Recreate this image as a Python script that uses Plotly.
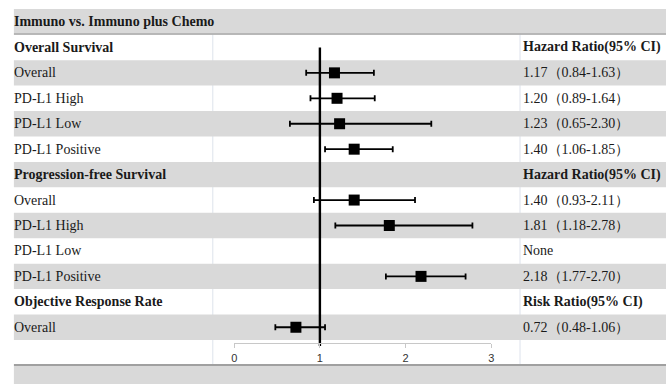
import plotly.graph_objects as go

W, H = 669, 384

title = "Immuno vs. Immuno plus Chemo"
labels = ["Overall Survival", "Overall", "PD-L1 High", "PD-L1 Low", "PD-L1 Positive",
          "Progression-free Survival", "Overall", "PD-L1 High", "PD-L1 Low", "PD-L1 Positive",
          "Objective Response Rate", "Overall"]
is_header = [True, False, False, False, False, True, False, False, False, False, True, False]
right_text = ["Hazard Ratio(95% CI)", "1.17（0.84-1.63）", "1.20（0.89-1.64）", "1.23（0.65-2.30）",
              "1.40（1.06-1.85）", "Hazard Ratio(95% CI)", "1.40（0.93-2.11）", "1.81（1.18-2.78）",
              "None", "2.18（1.77-2.70）", "Risk Ratio(95% CI)", "0.72（0.48-1.06）"]
est = [None, 1.17, 1.20, 1.23, 1.40, None, 1.40, 1.81, None, 2.18, None, 0.72]
lo = [None, 0.84, 0.89, 0.65, 1.06, None, 0.93, 1.18, None, 1.77, None, 0.48]
hi = [None, 1.63, 1.64, 2.30, 1.85, None, 2.11, 2.78, None, 2.70, None, 1.06]
tick_vals = [0, 1, 2, 3]

FONT = "Liberation Serif, Times New Roman, serif"
TXT = "#1a1a1a"
GRAY = "#d9d9d9"

# pixel geometry
row_top = 34.7
row_h = 25.44
def px_to_row(p):
    return (p - row_top) / row_h - 0.5

n = len(labels)
ys = [i for i in range(n) if est[i] is not None]

fig = go.Figure()
fig.add_trace(go.Scatter(
    x=[est[i] for i in ys], y=ys, mode="markers",
    marker=dict(symbol="square", size=11, color="black"),
    error_x=dict(type="data", symmetric=False,
                 array=[hi[i] - est[i] for i in ys],
                 arrayminus=[est[i] - lo[i] for i in ys],
                 color="black", thickness=1.8, width=3),
    showlegend=False, hoverinfo="skip", cliponaxis=False,
))

shapes = []
# vertical separators
for xp in (211.7, 521.7):
    shapes.append(dict(type="line", xref="paper", yref="y", x0=xp / W, x1=xp / W,
                       y0=-0.5, y1=px_to_row(364), line=dict(color="#dde3ec", width=1),
                       layer="below"))
# gray rows
for i in range(n):
    if i % 2 == 1:
        shapes.append(dict(type="rect", xref="paper", yref="y", x0=11 / W, x1=1,
                           y0=i - 0.5, y1=i + 0.5, fillcolor=GRAY, line=dict(width=0),
                           layer="below"))
# title band
shapes.append(dict(type="rect", xref="paper", yref="paper", x0=11 / W, x1=1,
                   y0=1 - 33.3 / H, y1=1 - 9 / H, fillcolor=GRAY, line=dict(width=0), layer="below"))
shapes.append(dict(type="line", xref="paper", yref="paper", x0=11 / W, x1=1,
                   y0=1 - 34 / H, y1=1 - 34 / H, line=dict(color="#a0a0a0", width=1.5), layer="below"))
# bottom band
shapes.append(dict(type="line", xref="paper", yref="paper", x0=11 / W, x1=1,
                   y0=1 - 365 / H, y1=1 - 365 / H, line=dict(color="#808080", width=1.5), layer="below"))
shapes.append(dict(type="rect", xref="paper", yref="paper", x0=11 / W, x1=1,
                   y0=0, y1=1 - 366 / H, fillcolor=GRAY, line=dict(width=0), layer="below"))
# reference line at 1
shapes.append(dict(type="line", xref="x", yref="y", x0=1, x1=1, y0=0, y1=px_to_row(346),
                   line=dict(color="black", width=2.4), layer="below"))

LX = 9.5 / W
RX = 522.5 / W
annotations = [dict(text="<b>" + title + "</b>", xref="paper", yref="paper", x=LX,
                    y=1 - 21.5 / H, xanchor="left", yanchor="middle", showarrow=False,
                    font=dict(family=FONT, size=14, color=TXT))]
for i in range(n):
    lab = "<b>" + labels[i] + "</b>" if is_header[i] else labels[i]
    rt = "<b>" + right_text[i] + "</b>" if is_header[i] else right_text[i]
    annotations.append(dict(text=lab, xref="paper", yref="y", x=LX, y=i,
                            xanchor="left", yanchor="middle", showarrow=False,
                            font=dict(family=FONT, size=14, color=TXT)))
    annotations.append(dict(text=rt, xref="paper", yref="y", x=RX, y=i,
                            xanchor="left", yanchor="middle", showarrow=False,
                            font=dict(family=FONT, size=14, color=TXT)))

fig.update_layout(
    width=W, height=H, margin=dict(l=0, r=0, t=0, b=0),
    paper_bgcolor="white", plot_bgcolor="rgba(0,0,0,0)",
    shapes=shapes, annotations=annotations,
    xaxis=dict(domain=[233.3 / W, 492.7 / W], range=[0, 3], tickvals=tick_vals,
               ticks="outside", ticklen=4, tickcolor="#c8c8c8", showline=True,
               linecolor="#c8c8c8", linewidth=1, showgrid=False, zeroline=False,
               anchor="free", position=1 - 343.3 / H,
               tickfont=dict(family="Liberation Sans, Arial, sans-serif", size=11, color="#333")),
    yaxis=dict(domain=[0, 1], range=[px_to_row(H), px_to_row(0)], visible=False),
)

fig.write_html("out.html", config={"displayModeBar": False},
               post_script="document.body.style.margin='0';document.body.style.overflow='hidden';")
